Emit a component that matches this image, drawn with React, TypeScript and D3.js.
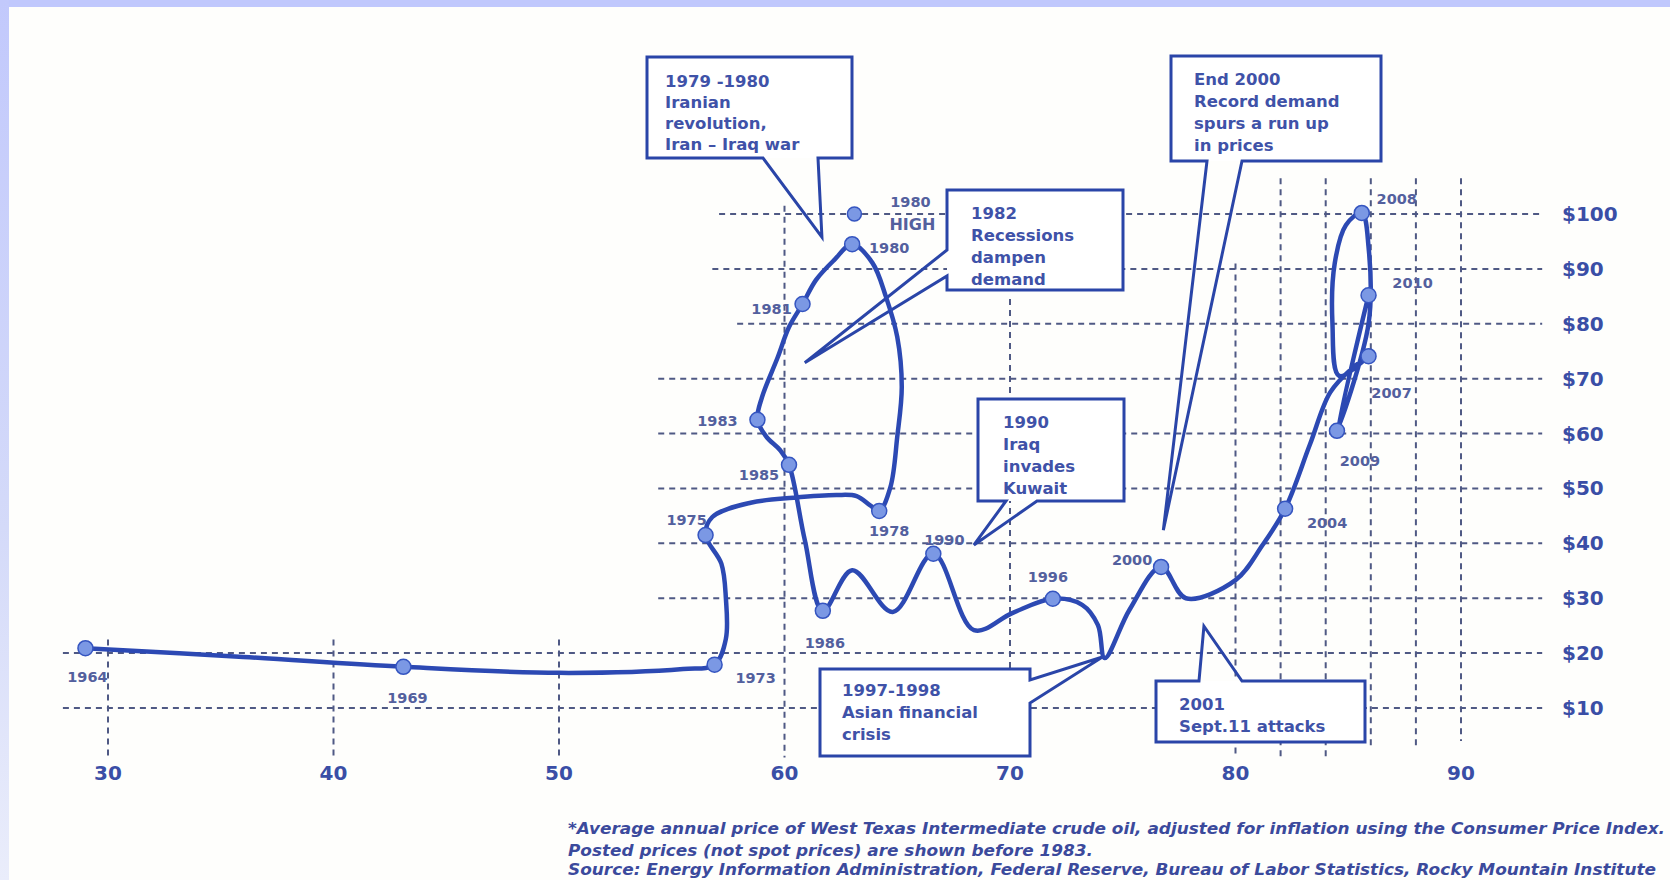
import React from 'react';
import * as d3 from 'd3';

const W = 1670;
const H = 880;

// Axis ticks
const xTicks = [30, 40, 50, 60, 70, 80, 90];
const yTicks = [100, 90, 80, 70, 60, 50, 40, 30, 20, 10];
const yTickLabels = ['$100', '$90', '$80', '$70', '$60', '$50', '$40', '$30', '$20', '$10'];

// Connected curve (x value, real oil price $)
const pathX = [29.0, 36.0, 43.1, 50.0, 55.5, 56.9, 57.4, 57.4, 57.2, 56.5, 56.8, 58.5, 60.4, 62.3, 63.2, 63.8, 64.2,
  64.7, 65.0, 65.2, 65.0, 64.5, 63.9, 63.0, 62.2, 61.4, 60.8, 60.2, 59.7, 59.0, 58.8, 59.2, 59.8, 60.2, 60.9, 61.7,
  63.0, 64.8, 66.6, 68.4, 70.1, 71.9, 73.2, 73.9, 74.2, 75.3, 76.7, 77.8, 80.0, 81.2, 82.2, 83.3, 84.2, 85.2, 85.9,
  84.6, 84.3, 84.4, 84.9, 85.6, 85.9, 85.9, 84.5, 85.9];
const pathY = [20.9, 19.3, 17.5, 16.4, 17.1, 17.9, 22.6, 30.0, 36.3, 41.5, 44.8, 47.4, 48.3, 48.8, 48.6, 46.9, 45.9,
  50.3, 59.4, 68.5, 77.6, 84.9, 91.1, 94.5, 91.6, 88.0, 83.6, 79.4, 73.9, 66.6, 62.5, 59.4, 57.0, 54.3, 40.6, 27.7,
  35.1, 27.5, 38.1, 24.2, 27.3, 29.9, 28.8, 25.1, 19.1, 27.9, 35.7, 30.0, 33.3, 39.7, 46.3, 58.0, 67.5, 72.0, 74.1,
  70.5, 80.0, 91.0, 98.0, 100.2, 94.0, 80.0, 60.5, 85.2];

// Labelled year markers
const markerYears = ['1964', '1969', '1973', '1975', '1978', '1980', '1981', '1983', '1985', '1986', '1990', '1996',
  '2000', '2004', '2007', '2008', '2009', '2010'];
const markerX = [29.0, 43.1, 56.9, 56.5, 64.2, 63.0, 60.8, 58.8, 60.2, 61.7, 66.6, 71.9, 76.7, 82.2, 85.9, 85.6, 84.5, 85.9];
const markerY = [20.9, 17.5, 17.9, 41.5, 45.9, 94.5, 83.6, 62.5, 54.3, 27.7, 38.1, 29.9, 35.7, 46.3, 74.1, 100.2, 60.5, 85.2];

// 1980 monthly high
const highLabel = ['1980', 'HIGH'];
const highX = 63.1;
const highY = 100;

// Label placement (pixel offsets from marker)
const labelDx = [2, 4, 41, -19, 10, 37, -31, -40, -30, 2, 11, -5, -29, 42, 23, 35, 23, 44];
const labelDy = [29, 31, 13, -15, 20, 4, 5, 1, 10, 32, -14, -22, -7, 14, 37, -14, 30, -12];

// Grid extents (in data units)
const vGridX = [30, 40, 50, 60, 70, 80, 82, 84, 86, 88, 90];
const vGridTop = [22.5, 22.5, 22.5, 101.5, 84.5, 91, 106.5, 106.5, 106.5, 106.5, 106.5];
const vGridBottom = [1, 1, 1, 1, 1, 1, 1, 1, 3, 3, 4];
const hGridStart = [57.1, 56.8, 57.9, 54.4, 54.4, 54.4, 54.4, 54.4, 28.0, 28.0];
const hGridEnd = 93.6;

// Callout texts
const noteTexts = [
  ['1979 -1980', 'Iranian', 'revolution,', 'Iran \u2013 Iraq war'],
  ['1982', 'Recessions', 'dampen', 'demand'],
  ['1990', 'Iraq', 'invades', 'Kuwait'],
  ['End 2000', 'Record demand', 'spurs a run up', 'in prices'],
  ['1997-1998', 'Asian financial', 'crisis'],
  ['2001', 'Sept.11 attacks'],
];
// Callout pointer tips (data units)
const noteTipX = [61.66, 60.9, 68.4, 76.8, 74.1, 78.6];
const noteTipY = [95.8, 72.9, 39.7, 42.4, 19.3, 24.9];

const footnotes = [
  '*Average annual price of West Texas Intermediate crude oil, adjusted for inflation using the Consumer Price Index.',
  'Posted prices (not spot prices) are shown before 1983.',
  'Source: Energy Information Administration, Federal Reserve, Bureau of Labor Statistics, Rocky Mountain Institute',
];

// ---- layout (pixels) ----
const noteLayout = [
  { box: [647, 57, 852, 158], tx: 665, ty: [81, 102, 123, 144], side: 'bottom', a: 763, b: 818 },
  { box: [947, 190, 1123, 290], tx: 971, ty: [213, 235, 257, 279], side: 'left', a: 250, b: 276 },
  { box: [978, 399, 1124, 501], tx: 1003, ty: [422, 444, 466, 488], side: 'bottom', a: 1006, b: 1037 },
  { box: [1171, 56, 1381, 161], tx: 1194, ty: [79, 101, 123, 145], side: 'bottom', a: 1207, b: 1242 },
  { box: [820, 669, 1030, 756], tx: 842, ty: [690, 712, 734], side: 'right', a: 680, b: 703 },
  { box: [1156, 681, 1365, 742], tx: 1179, ty: [704, 726], side: 'top', a: 1199, b: 1242 },
];
const footLayout = [
  { x: 568, y: 834, len: 1097 },
  { x: 568, y: 856, len: 525 },
  { x: 568, y: 875, len: 1088 },
];

const BLUE_LINE = '#2c49b3';
const BOX_STROKE = '#2a45a8';
const BOX_TEXT = '#3f52a8';
const GRID = '#4f5984';
const LABEL = '#53609e';
const AXIS_TEXT = '#3a4ea6';
const FONT = '"DejaVu Sans", Verdana, sans-serif';

export default function App() {
  const x = d3.scaleLinear().domain([30, 90]).range([108, 1461]);
  const y = d3.scaleLinear().domain([10, 100]).range([708, 214]);

  const pts: [number, number][] = pathX.map((v, i) => [x(v), y(pathY[i])]);
  const line = d3.line().curve(d3.curveCatmullRom.alpha(0.5));
  const curveD = line(pts) || '';

  const outline = (n: typeof noteLayout[number], tip: [number, number]) => {
    const [x0, y0, x1, y1] = n.box;
    const [tx, ty] = tip;
    if (n.side === 'bottom')
      return `M${x0},${y0}H${x1}V${y1}H${n.b}L${tx},${ty}L${n.a},${y1}H${x0}Z`;
    if (n.side === 'top')
      return `M${x0},${y0}H${n.a}L${tx},${ty}L${n.b},${y0}H${x1}V${y1}H${x0}Z`;
    if (n.side === 'left')
      return `M${x0},${y0}H${x1}V${y1}H${x0}V${n.b}L${tx},${ty}L${x0},${n.a}Z`;
    return `M${x0},${y0}H${x1}V${n.a}L${tx},${ty}L${x1},${n.b}V${y1}H${x0}Z`;
  };

  return (
    <svg width={W} height={H} viewBox={`0 0 ${W} ${H}`}
      style={{ position: 'absolute', left: 0, top: 0, display: 'block' }}>
      <defs>
        <linearGradient id="leftBand" x1="0" y1="0" x2="0" y2="1">
          <stop offset="0" stopColor="#c2c9fc" />
          <stop offset="0.6" stopColor="#d4daf9" />
          <stop offset="1" stopColor="#eaedfb" />
        </linearGradient>
      </defs>
      <rect x={0} y={0} width={W} height={H} fill="#fefefc" />
      <rect x={0} y={0} width={W} height={7} fill="#c0c8fd" />
      <rect x={0} y={0} width={9} height={H} fill="url(#leftBand)" />

      {/* grid */}
      <g stroke={GRID} strokeWidth={2} strokeDasharray="6,5" fill="none">
        {yTicks.map((v, i) => (
          <line key={'h' + v} x1={x(hGridStart[i])} x2={x(hGridEnd)} y1={y(v)} y2={y(v)} />
        ))}
        {vGridX.map((v, i) => (
          <line key={'v' + v} x1={x(v)} x2={x(v)} y1={y(vGridTop[i])} y2={y(vGridBottom[i])} />
        ))}
      </g>

      {/* callouts */}
      {noteLayout.map((n, i) => {
        const [x0, y0, x1, y1] = n.box;
        const tip: [number, number] = [x(noteTipX[i]), y(noteTipY[i])];
        return (
          <g key={'n' + i}>
            <rect x={x0} y={y0} width={x1 - x0} height={y1 - y0} fill="#ffffff" />
            <path d={outline(n, tip)} fill="none" stroke={BOX_STROKE} strokeWidth={3} strokeLinejoin="miter" />
            {noteTexts[i].map((t, j) => (
              <text key={j} x={n.tx} y={n.ty[j]} dominantBaseline="central" fontFamily={FONT}
                fontWeight="bold" fontSize={16.5} fill={BOX_TEXT}>{t}</text>
            ))}
          </g>
        );
      })}

      {/* curve */}
      <path d={curveD} fill="none" stroke={BLUE_LINE} strokeWidth={4.5} strokeLinejoin="round" strokeLinecap="round" />

      {/* markers */}
      <circle cx={x(highX)} cy={y(highY)} r={7} fill="#7b98e4" stroke="#3555c0" strokeWidth={1.5} />
      {markerX.map((v, i) => (
        <circle key={'m' + i} cx={x(v)} cy={y(markerY[i])} r={7.5} fill="#7b98e4" stroke="#3555c0" strokeWidth={1.5} />
      ))}

      {/* year labels */}
      <g fontFamily={FONT} fontWeight="bold" fontSize={14.5} fill={LABEL} textAnchor="middle">
        {markerYears.map((t, i) => (
          <text key={'l' + i} x={x(markerX[i]) + labelDx[i]} y={y(markerY[i]) + labelDy[i]}
            dominantBaseline="central">{t}</text>
        ))}
        <text x={x(highX) + 56} y={y(highY) - 12} dominantBaseline="central">{highLabel[0]}</text>
        <text x={x(highX) + 58} y={y(highY) + 10} dominantBaseline="central" fontSize={16}>{highLabel[1]}</text>
      </g>

      {/* axes labels */}
      <g fontFamily={FONT} fontWeight="bold" fill={AXIS_TEXT}>
        {xTicks.map((v) => (
          <text key={'xt' + v} x={x(v)} y={773} textAnchor="middle" dominantBaseline="central" fontSize={20}>{v}</text>
        ))}
        {yTicks.map((v, i) => (
          <text key={'yt' + v} x={1562} y={y(v)} dominantBaseline="central" fontSize={20}>{yTickLabels[i]}</text>
        ))}
      </g>

      {/* footnotes */}
      <g fontFamily={FONT} fontWeight="bold" fontStyle="italic" fontSize={15} fill="#3b4a9c">
        {footnotes.map((t, i) => (
          <text key={'f' + i} x={footLayout[i].x} y={footLayout[i].y} textLength={footLayout[i].len}
            lengthAdjust="spacingAndGlyphs">{t}</text>
        ))}
      </g>
    </svg>
  );
}
